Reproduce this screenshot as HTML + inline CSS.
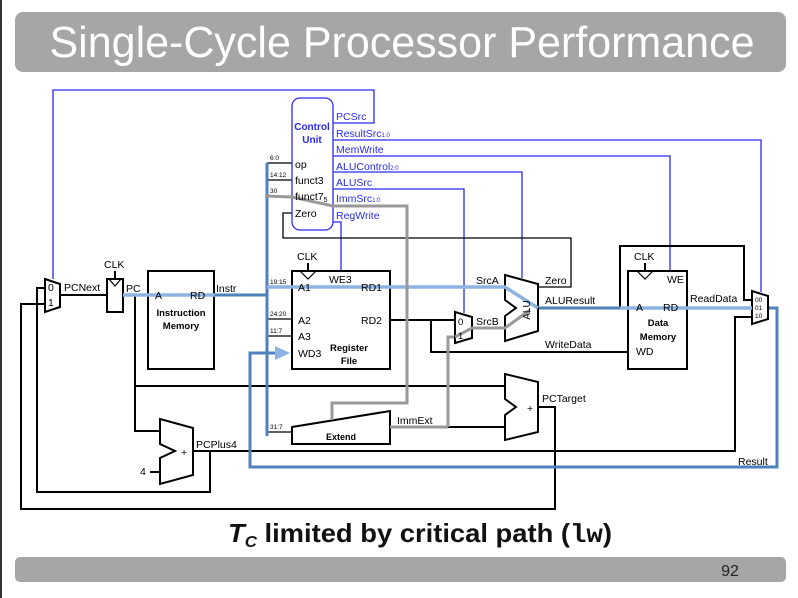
<!DOCTYPE html>
<html><head><meta charset="utf-8"><style>
html,body{margin:0;padding:0;background:#fff;}
svg{display:block;font-family:"Liberation Sans",Arial,sans-serif;}
</style></head><body>
<svg width="798" height="598" viewBox="0 0 798 598" xmlns="http://www.w3.org/2000/svg">
<rect x="0" y="0" width="2" height="598" fill="#333"/>
<rect x="15" y="12" width="771" height="60" rx="8" fill="#a6a6a6"/>
<text x="402" y="57" font-size="44" fill="#fff" text-anchor="middle" textLength="705" lengthAdjust="spacingAndGlyphs">Single-Cycle Processor Performance</text>
<rect x="15" y="557" width="771" height="25" rx="5" fill="#a6a6a6"/>
<text x="730" y="576" font-size="16" fill="#222" text-anchor="middle">92</text>
<text x="420" y="542" font-size="26" font-weight="bold" fill="#111" text-anchor="middle" textLength="384" lengthAdjust="spacingAndGlyphs"><tspan font-style="italic">T</tspan><tspan font-style="italic" font-size="16" dy="5">C</tspan><tspan dy="-5"> limited by critical path (</tspan><tspan font-family="Liberation Mono,monospace">lw</tspan>)</text>

<g fill="none" stroke-linejoin="miter">
<g stroke="#2a2af0" stroke-width="1.3">
<polyline points="53,279 53,90 374,90 374,123 333,123"/>
<polyline points="333,140 761,140 761,292"/>
<polyline points="333,156 670,156 670,271"/>
<polyline points="333,172 522,172 522,278"/>
<polyline points="333,189 464,189 464,313"/>
<polyline points="333,222 341,222 341,271"/>
</g>
<g stroke="#000" stroke-width="1.3">
<polyline points="292,213 283,213 283,238 571,238 571,287 538,287"/>
<line x1="267" y1="163" x2="292" y2="163"/>
<line x1="267" y1="180" x2="292" y2="180"/>
<line x1="267" y1="319" x2="292" y2="319"/>
<line x1="267" y1="336" x2="292" y2="336"/>
<line x1="267" y1="432" x2="292" y2="432"/>
</g>
<g stroke="#000" stroke-width="2">
<polyline points="390,320 455,320"/>
<polyline points="431,320 431,352 628,352"/>
<polyline points="620,308 620,246 744,246 744,300 752,300"/>
<polyline points="135,295 135,386 505,386"/>
<polyline points="135,386 135,431 160,431"/>
<polyline points="193,451 735,451 735,317 752,317"/>
<polyline points="210,451 210,492 37,492 37,288 45,288"/>
<polyline points="45,304 21,304 21,509 555,509 555,407 538,407"/>
<line x1="60" y1="295" x2="107" y2="295"/>
<line x1="150" y1="472" x2="160" y2="472"/>
<line x1="390" y1="427" x2="505" y2="427"/>
<line x1="115" y1="271" x2="115" y2="279"/>
<line x1="308" y1="263" x2="308" y2="271"/>
<line x1="645" y1="263" x2="645" y2="271"/>
</g>
<g stroke="#4f81bd" stroke-width="3">
<line x1="267" y1="163" x2="267" y2="436"/>
<line x1="123" y1="295" x2="267" y2="295"/>
<polyline points="275,353 250,353 250,467 777,467 777,308 768,308"/>
<line x1="538" y1="308" x2="752" y2="308"/>
</g>
<g stroke="#999" stroke-width="3">
<polyline points="448,427 448,337 455,337"/>
</g>
</g>

<g stroke="#000" stroke-width="2" fill="#fff">
<polygon points="45,279 60,284 60,307 45,312"/>
<rect x="107" y="279" width="16" height="33"/>
<rect x="148" y="271" width="66" height="98"/>
<rect x="292" y="271" width="98" height="98"/>
<rect x="628" y="271" width="59" height="98"/>
<polygon points="455,312 472,317 472,338 455,343"/>
<polygon points="505,275 538,284 538,331 505,341 505,316 516,308 505,300"/>
<polygon points="505,374 538,382 538,432 505,440 505,415 516,407 505,399"/>
<polygon points="160,419 193,428 193,475 160,484 160,458 175,451 160,444"/>
<polygon points="292,427 390,411 390,444 292,444"/>
<polygon points="752,291 768,296 768,319 752,324"/>
</g>
<g stroke="#000" stroke-width="1.2" fill="none">
<polyline points="109,279 115,286 121,279"/>
<polyline points="300,271 308,279 316,271"/>
<polyline points="637,271 645,279 653,271"/>
</g>
<rect x="292" y="98" width="41" height="132" rx="8" fill="#fff" stroke="#2a2af0" stroke-width="1.3"/>

<g fill="none">
<g stroke="#4f81bd" stroke-width="3">
<line x1="628" y1="308" x2="687" y2="308"/>
</g>
<g stroke="#8db3e2" stroke-width="3.5">
<line x1="123" y1="295" x2="215" y2="295"/>
<polyline points="267,287 505,287 538,308"/>
<line x1="620" y1="308" x2="752" y2="308"/>
</g>
<g stroke="#999" stroke-width="3">
<polyline points="265,196 292,197 333,206 407,206 407,403 332,403 332,420"/>
<polyline points="390,427 448,427"/>
<polyline points="455,337 472,328 505,328 530,310"/>
</g>
</g>
<polygon points="275,346 290,353 275,360" fill="#8db3e2"/>

<g font-size="10.5" fill="#000">
<text x="312" y="130" font-weight="bold" fill="#2a2af0" text-anchor="middle" font-size="10">Control</text>
<text x="312" y="143" font-weight="bold" fill="#2a2af0" text-anchor="middle" font-size="10">Unit</text>
<text x="295" y="168">op</text>
<text x="295" y="184">funct3</text>
<text x="295" y="200">funct7<tspan font-size="7" dy="2">5</tspan></text>
<text x="295" y="217">Zero</text>
<g fill="#2a2af0">
<text x="336" y="120">PCSrc</text>
<text x="336" y="137">ResultSrc<tspan font-size="6">1:0</tspan></text>
<text x="336" y="153">MemWrite</text>
<text x="336" y="170">ALUControl<tspan font-size="6">2:0</tspan></text>
<text x="336" y="186">ALUSrc</text>
<text x="336" y="202">ImmSrc<tspan font-size="6">1:0</tspan></text>
<text x="336" y="219">RegWrite</text>
</g>
<g font-size="6.5">
<text x="270" y="160">6:0</text>
<text x="270" y="177">14:12</text>
<text x="270" y="193">30</text>
<text x="270" y="284">19:15</text>
<text x="270" y="316">24:20</text>
<text x="270" y="333">11:7</text>
<text x="270" y="429">31:7</text>
</g>
<text x="104" y="268">CLK</text>
<text x="297" y="260">CLK</text>
<text x="634" y="260">CLK</text>
<text x="48" y="291">0</text>
<text x="48" y="306">1</text>
<text x="64" y="291">PCNext</text>
<text x="126" y="292">PC</text>
<text x="155" y="299">A</text>
<text x="190" y="299">RD</text>
<text x="181" y="316" font-weight="bold" text-anchor="middle" font-size="9.5">Instruction</text>
<text x="181" y="329" font-weight="bold" text-anchor="middle" font-size="9.5">Memory</text>
<text x="216" y="292">Instr</text>
<text x="329" y="283">WE3</text>
<text x="298" y="291">A1</text>
<text x="361" y="291">RD1</text>
<text x="298" y="324">A2</text>
<text x="361" y="324">RD2</text>
<text x="298" y="340">A3</text>
<text x="298" y="357">WD3</text>
<text x="349" y="351" font-weight="bold" text-anchor="middle" font-size="9.5">Register</text>
<text x="349" y="364" font-weight="bold" text-anchor="middle" font-size="9.5">File</text>
<text x="341" y="440" font-weight="bold" text-anchor="middle" font-size="9">Extend</text>
<text x="397" y="424">ImmExt</text>
<text x="458" y="325" font-size="9.5">0</text>
<text x="458" y="339" font-size="9.5">1</text>
<text x="476" y="284">SrcA</text>
<text x="476" y="325">SrcB</text>
<text x="530" y="310" transform="rotate(-90 530 310)" text-anchor="middle" font-size="10">ALU</text>
<text x="545" y="284">Zero</text>
<text x="545" y="304">ALUResult</text>
<text x="545" y="348">WriteData</text>
<text x="667" y="283">WE</text>
<text x="636" y="311">A</text>
<text x="663" y="311">RD</text>
<text x="658" y="326" font-weight="bold" text-anchor="middle" font-size="9.5">Data</text>
<text x="658" y="340" font-weight="bold" text-anchor="middle" font-size="9.5">Memory</text>
<text x="636" y="355">WD</text>
<text x="690" y="302">ReadData</text>
<g font-size="6.5"><text x="755" y="302">00</text><text x="755" y="310">01</text><text x="755" y="318">10</text></g>
<text x="527" y="412">+</text>
<text x="542" y="402">PCTarget</text>
<text x="181" y="456">+</text>
<text x="196" y="448">PCPlus4</text>
<text x="140" y="475">4</text>
<text x="738" y="465">Result</text>
</g>
</svg>
</body></html>
